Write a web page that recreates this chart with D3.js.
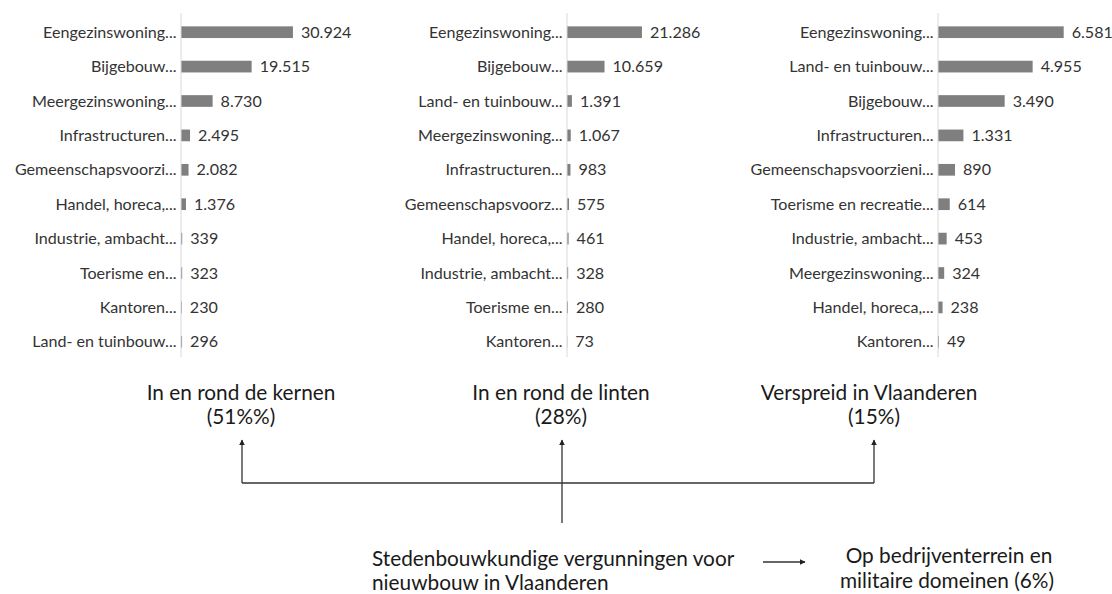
<!DOCTYPE html>
<html>
<head>
<meta charset="utf-8">
<script src="https://cdn.jsdelivr.net/npm/d3@7"></script>
<style>
  html, body { margin: 0; padding: 0; background: #fff; }
  svg { display: block; }
  text { font-family: Lato, "Open Sans", sans-serif; }
</style>
</head>
<body>
<svg id="chart" width="1112" height="594"></svg>
<script>
// ---- Data ----
const kernenCategories = ["Eengezinswoning...", "Bijgebouw...", "Meergezinswoning...", "Infrastructuren...", "Gemeenschapsvoorzi...", "Handel, horeca,...", "Industrie, ambacht...", "Toerisme en...", "Kantoren...", "Land- en tuinbouw..."];
const kernenValues = [30924, 19515, 8730, 2495, 2082, 1376, 339, 323, 230, 296];

const lintenCategories = ["Eengezinswoning...", "Bijgebouw...", "Land- en tuinbouw...", "Meergezinswoning...", "Infrastructuren...", "Gemeenschapsvoorz...", "Handel, horeca,...", "Industrie, ambacht...", "Toerisme en...", "Kantoren..."];
const lintenValues = [21286, 10659, 1391, 1067, 983, 575, 461, 328, 280, 73];

const verspreidCategories = ["Eengezinswoning...", "Land- en tuinbouw...", "Bijgebouw...", "Infrastructuren...", "Gemeenschapsvoorzieni...", "Toerisme en recreatie...", "Industrie, ambacht...", "Meergezinswoning...", "Handel, horeca,...", "Kantoren..."];
const verspreidValues = [6581, 4955, 3490, 1331, 890, 614, 453, 324, 238, 49];

const panelTitles = [["In en rond de kernen", "(51%%)"], ["In en rond de linten", "(28%)"], ["Verspreid in Vlaanderen", "(15%)"]];
const sourceText = ["Stedenbouwkundige vergunningen voor", "nieuwbouw in Vlaanderen"];
const otherText = ["Op bedrijventerrein en", "militaire domeinen (6%)"];

// ---- Layout ----
const svg = d3.select("#chart");
const nl = d3.formatLocale({decimal: ",", thousands: ".", grouping: [3], currency: ["€", ""]});
const fmt = nl.format(",");

const panels = [
  {cats: kernenCategories, vals: kernenValues, axisX: 181, max: 35000, width: 126.7},
  {cats: lintenCategories, vals: lintenValues, axisX: 567, max: 25000, width: 88},
  {cats: verspreidCategories, vals: verspreidValues, axisX: 938, max: 7000, width: 133.7}
];

const bandTop = 15, bandBottom = 359;
const labelSize = 16.1;
const bigSize = 20.8;
const textColor = "#333";

panels.forEach(p => {
  const g = svg.append("g");
  const y = d3.scaleBand().domain(p.cats).range([bandTop, bandBottom]).paddingInner(0.66).paddingOuter(0.33);
  const x = d3.scaleLinear().domain([0, p.max]).range([p.axisX, p.axisX + p.width]);

  g.selectAll("rect").data(p.vals).join("rect")
    .attr("x", x(0))
    .attr("y", (d, i) => y(p.cats[i]))
    .attr("width", d => x(d) - x(0))
    .attr("height", y.bandwidth())
    .attr("fill", "#7f7f7f");

  g.append("line")
    .attr("x1", p.axisX).attr("x2", p.axisX)
    .attr("y1", 13).attr("y2", 357)
    .attr("stroke", "#d9d9d9").attr("stroke-width", 1);

  g.selectAll("text.cat").data(p.cats).join("text")
    .attr("class", "cat")
    .attr("x", p.axisX - 4.5)
    .attr("y", d => y(d) + y.bandwidth() / 2)
    .attr("dy", "0.35em")
    .attr("text-anchor", "end")
    .attr("font-size", labelSize)
    .attr("fill", textColor)
    .text(d => d);

  g.selectAll("text.val").data(p.vals).join("text")
    .attr("class", "val")
    .attr("x", d => x(d) + 8)
    .attr("y", (d, i) => y(p.cats[i]) + y.bandwidth() / 2)
    .attr("dy", "0.35em")
    .attr("font-size", labelSize)
    .attr("fill", textColor)
    .text(d => fmt(d));
});

// ---- Titles ----
const titleX = [241, 561, 869];
panelTitles.forEach((t, i) => {
  const tx = svg.append("text")
    .attr("text-anchor", "middle")
    .attr("font-size", bigSize)
    .attr("fill", "#1a1a1a");
  tx.append("tspan").attr("x", titleX[i]).attr("y", 400).text(t[0]);
  tx.append("tspan").attr("x", titleX[i] + (i === 2 ? 5 : 0)).attr("y", 424).text(t[1]);
});

// ---- Arrows ----
const defs = svg.append("defs");
defs.append("marker")
  .attr("id", "ah")
  .attr("viewBox", "0 0 10 10")
  .attr("refX", 9).attr("refY", 5)
  .attr("markerWidth", 6).attr("markerHeight", 6)
  .attr("markerUnits", "userSpaceOnUse")
  .attr("orient", "auto")
  .append("path").attr("d", "M0,0 L10,5 L0,10 Z").attr("fill", "#222");

const lineColor = "#333";
const hY = 483, arrowTop = 440;
svg.append("line").attr("x1", 242).attr("x2", 874).attr("y1", hY).attr("y2", hY)
  .attr("stroke", lineColor).attr("stroke-width", 1.3);
svg.append("line").attr("x1", 242).attr("x2", 242).attr("y1", hY).attr("y2", arrowTop)
  .attr("stroke", lineColor).attr("stroke-width", 1.3).attr("marker-end", "url(#ah)");
svg.append("line").attr("x1", 874).attr("x2", 874).attr("y1", hY).attr("y2", arrowTop)
  .attr("stroke", lineColor).attr("stroke-width", 1.3).attr("marker-end", "url(#ah)");
svg.append("line").attr("x1", 562).attr("x2", 562).attr("y1", 523).attr("y2", arrowTop)
  .attr("stroke", lineColor).attr("stroke-width", 1.3).attr("marker-end", "url(#ah)");
svg.append("line").attr("x1", 763).attr("x2", 805).attr("y1", 562).attr("y2", 562)
  .attr("stroke", lineColor).attr("stroke-width", 1.3).attr("marker-end", "url(#ah)");

// ---- Bottom texts ----
const st = svg.append("text").attr("font-size", bigSize).attr("fill", "#1a1a1a");
st.append("tspan").attr("x", 372).attr("y", 566).text(sourceText[0]);
st.append("tspan").attr("x", 372).attr("y", 590).text(sourceText[1]);

const ot = svg.append("text").attr("font-size", bigSize).attr("fill", "#1a1a1a").attr("text-anchor", "middle");
ot.append("tspan").attr("x", 949).attr("y", 563).text(otherText[0]);
ot.append("tspan").attr("x", 947).attr("y", 588).text(otherText[1]);
</script>
</body>
</html>
